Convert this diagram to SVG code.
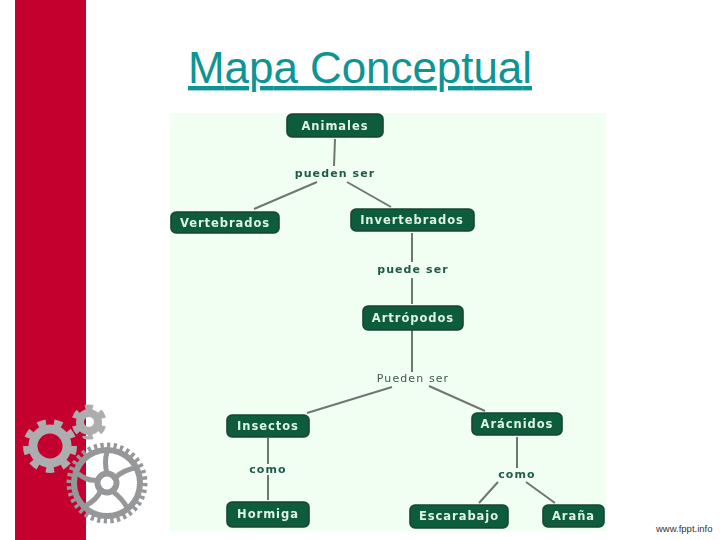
<svg xmlns="http://www.w3.org/2000/svg" width="720" height="540" viewBox="0 0 720 540">
<style>
.n{fill:#0c5b3b;stroke:#1d4435;stroke-width:1.6}
.nt{font:bold 11.5px "DejaVu Sans",sans-serif;fill:#dff3e6;text-anchor:middle;letter-spacing:.95px}
.lb{font:bold 11px "DejaVu Sans",sans-serif;fill:#1d5a48;text-anchor:middle;letter-spacing:1.1px}
.c{stroke:#6f7670;stroke-width:2;fill:none}
.g1{fill:none;stroke:#adadaf}
.g2{fill:none;stroke:#969799}
</style>
<defs><filter id="b" x="-5%" y="-5%" width="110%" height="110%"><feGaussianBlur stdDeviation="0.5"/></filter></defs>
<rect width="720" height="540" fill="#fff"/>
<rect x="15" y="0" width="71" height="540" fill="#c4002f"/>
<rect x="170" y="113" width="436" height="418" fill="#f1fff3"/>
<text x="188" y="83" font-family="'Liberation Sans',Arial,sans-serif" font-size="44" textLength="344" fill="#0f9494" text-decoration="underline">Mapa Conceptual</text>
<g id="gears">
<g id="gear-small"><circle class="g1" cx="89" cy="422" r="9" stroke-width="8"/><circle class="g1" cx="89" cy="422" r="14.500" stroke-width="6" pathLength="12" stroke-dasharray="1 1" transform="rotate(15 89 422)"/></g>
<g id="gear-medium"><circle class="g1" cx="50" cy="446" r="17" stroke-width="9"/><circle class="g1" cx="50" cy="446" r="24" stroke-width="6" pathLength="18" stroke-dasharray="1 1"/></g>
<g id="gear-large"><circle class="g2" cx="107" cy="483" r="33" stroke-width="6"/><circle class="g2" cx="107" cy="483" r="38" stroke-width="5" pathLength="72" stroke-dasharray="1 1"/><circle class="g2" cx="107" cy="483" r="9.500" stroke-width="6"/>
<path class="g2" stroke-width="5" d="M107 474Q104 462 107 452M115 478Q122 470 139 467M112 491Q122 498 128 509M101 490Q97 500 85 506M98 480Q88 482 77 473"/></g>
</g>
<g id="connectors" filter="url(#b)">
<path class="c" d="M335 139L334 166M317 182L254 209M347 182L391 207M412 233V262M412 278V304M412 330V372M392 387L307 413M429 386L485 411M268 438V464M268 475V500M517 437V468M498 482L479 503M526 482L555 503"/>
</g>
<g id="labels" filter="url(#b)">
<text class="lb" x="335" y="177">pueden ser</text>
<text class="lb" x="413" y="273">puede ser</text>
<text class="lb" x="413" y="382" style="font-weight:normal;fill:#3d5a50">Pueden ser</text>
<text class="lb" x="268" y="473">como</text>
<text class="lb" x="517" y="478">como</text>
</g>
<g filter="url(#b)">
<g id="animales"><rect class="n" x="287" y="114" width="96" height="23" rx="5"/><text class="nt" x="335" y="130">Animales</text></g>
<g id="vertebrados"><rect class="n" x="171" y="212" width="108" height="21" rx="5"/><text class="nt" x="225" y="227">Vertebrados</text></g>
<g id="invertebrados"><rect class="n" x="351" y="209" width="123" height="22" rx="5"/><text class="nt" x="412" y="224">Invertebrados</text></g>
<g id="artropodos"><rect class="n" x="363" y="306" width="100" height="24" rx="5"/><text class="nt" x="413" y="322">Artrópodos</text></g>
<g id="insectos"><rect class="n" x="227" y="415" width="82" height="22" rx="5"/><text class="nt" x="268" y="430">Insectos</text></g>
<g id="aracnidos"><rect class="n" x="472" y="413" width="90" height="22" rx="5"/><text class="nt" x="517" y="428">Arácnidos</text></g>
<g id="hormiga"><rect class="n" x="227" y="502" width="82" height="25" rx="5"/><text class="nt" x="268" y="518">Hormiga</text></g>
<g id="escarabajo"><rect class="n" x="410" y="505" width="98" height="23" rx="5"/><text class="nt" x="459" y="520">Escarabajo</text></g>
<g id="arana"><rect class="n" x="543" y="505" width="61" height="22" rx="5"/><text class="nt" x="573.500" y="520">Araña</text></g>
</g>
<text x="656" y="532" font-family="'Liberation Sans',Arial,sans-serif" font-size="9.500" fill="#333">www.fppt.info</text>
</svg>
